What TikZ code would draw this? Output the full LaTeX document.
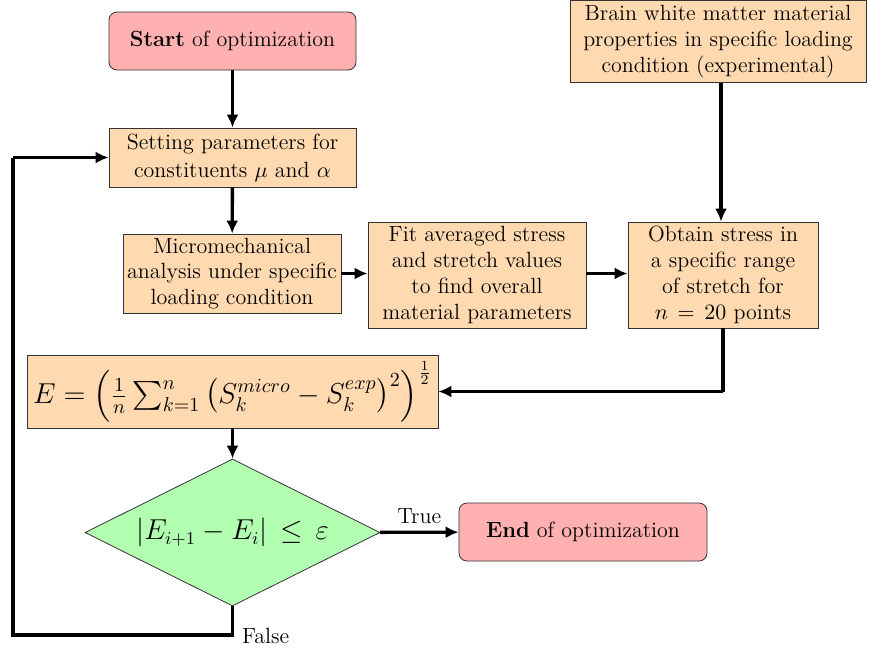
\documentclass[tikz,border=0pt]{standalone}
\usepackage{amsmath}
\usetikzlibrary{shapes.geometric,arrows.meta}
\definecolor{peach}{RGB}{255,218,176}
\definecolor{pinkbox}{RGB}{255,176,176}
\definecolor{greenbox}{RGB}{178,255,178}
\newcommand{\boxfont}{\fontsize{11}{12.9}\selectfont}
\begin{document}
\begin{tikzpicture}[x=0.5pt,y=-0.5pt,
  box/.style={draw=black!80,fill=peach,align=center,font=\boxfont,inner sep=0pt},
  term/.style={draw=black!80,fill=pinkbox,rounded corners=4pt,align=center,font=\boxfont,inner sep=0pt},
  arr/.style={line width=1.7pt,-{Latex[length=6.5pt,width=6pt]}},
  lin/.style={line width=1.7pt}]
\useasboundingbox (0,0) rectangle (870,649);
\node[term,minimum width=123.5pt,minimum height=29pt] (start) at (232.5,41) {\textbf{Start} of optimization};
\node[box,minimum width=123.5pt,minimum height=29.5pt] (set) at (232.5,157.5) {Setting parameters for\\[1pt]constituents $\mu$ and $\alpha$};
\node[box,minimum width=148pt,minimum height=41pt,anchor=north] (brain) at (718,0) {Brain white matter material\\properties in specific loading\\condition (experimental)};
\node[box,minimum width=109pt,minimum height=39.5pt] (micro) at (232,273.5) {Micromechanical\\analysis under specific\\loading condition};
\node[box,minimum width=109pt,minimum height=53pt] (fit) at (477,275) {Fit averaged stress\\and stretch values\\to find overall\\material parameters};
\node[box,minimum width=95pt,minimum height=53pt] (obtain) at (723,275) {Obtain stress in\\a specific range\\of stretch for\\$n\,=\,20$ points};
\node[box,font=\Large,minimum width=205.5pt,minimum height=36.5pt] (err) at (232.5,391.5) {$E=\left(\frac{1}{n}\sum_{k=1}^{n}\left(S_k^{micro}-S_k^{exp}\right)^2\right)^{\frac{1}{2}}$};
\node[draw=black!80,fill=greenbox,diamond,aspect=2,minimum width=147.5pt,minimum height=73.5pt,inner sep=0pt,font=\fontsize{13.5}{16}\selectfont] (dec) at (232.5,532.5) {$|E_{i+1}-E_i|\,\leq\,\varepsilon$};
\node[term,minimum width=124pt,minimum height=29pt] (end) at (583,532) {\textbf{End} of optimization};
\coordinate (c1) at (723,391.5);
\coordinate (c2) at (232.5,635);
\coordinate (c3) at (13,635);
\coordinate (c4) at (13,157.5);
\draw[arr] (start) -- (set);
\draw[arr] (set) -- (micro);
\draw[arr] (micro) -- (micro -| fit.west);
\draw[arr] (fit.east |- micro) -- (obtain.west |- micro);
\draw[arr] (brain.south -| 721,0) -- (obtain.north -| 721,0);
\draw[lin] (obtain.south) -- (c1);
\draw[arr] (c1) -- (err.east |- c1);
\draw[arr] (err) -- (dec);
\draw[arr] (dec) -- node[above,font=\boxfont]{True} (end);
\draw[lin] (dec.south) -- (c2) -- (c3) -- (c4);
\draw[arr] (c4) -- (set.west);
\node[font=\boxfont,anchor=west] (false) at (235,636) {False};
\end{tikzpicture}
\end{document}
